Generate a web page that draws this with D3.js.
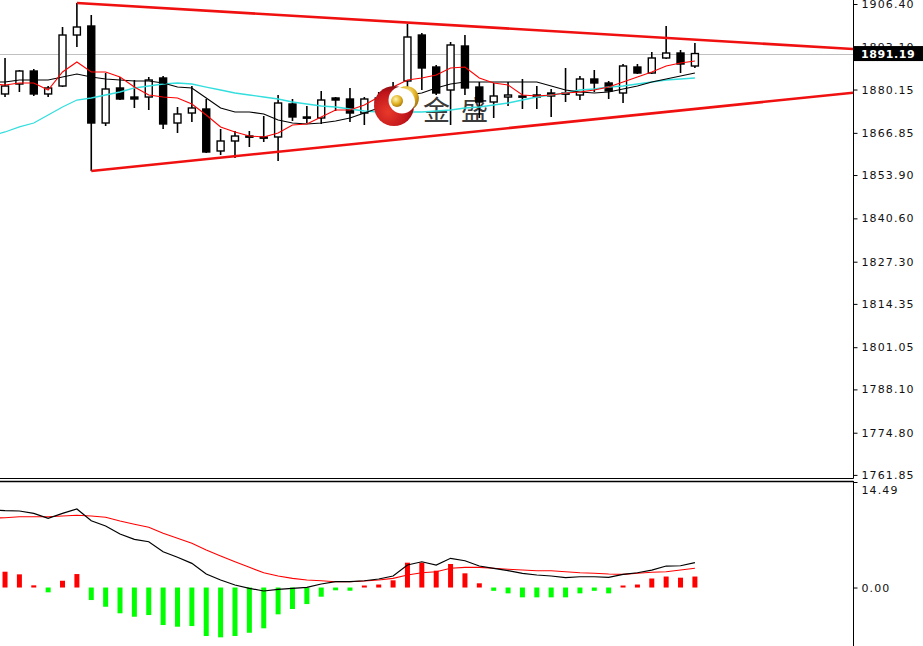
<!DOCTYPE html>
<html><head><meta charset="utf-8">
<script src="https://cdn.jsdelivr.net/npm/d3@7/dist/d3.min.js"></script>
<style>html,body{margin:0;padding:0;background:#fff;overflow:hidden}</style>
</head><body><svg id="c" width="923" height="646"></svg>
<script>
// ---- data (price candles, index 0..48) ----
const opens  = [1878.78,1881.84,1885.83,1878.78,1881.23,1896.88,1899.65,1869.87,1880.62,1877.85,1877.85,1883.69,1869.87,1872.94,1874.17,1861.28,1864.35,1865.88,1865.58,1865.58,1875.71,1871.72,1871.41,1877.55,1877.24,1872.94,1876.01,1876.93,1882.77,1896.88,1887.06,1880.00,1893.51,1880.92,1876.32,1877.85,1877.85,1878.47,1879.08,1878.78,1878.47,1883.38,1882.15,1879.08,1887.06,1885.22,1889.83,1891.36,1887.37];
const highs  = [1889.83,1886.14,1886.45,1881.23,1899.34,1906.71,1903.02,1885.22,1883.99,1883.07,1883.99,1884.30,1874.79,1881.23,1877.24,1868.03,1867.42,1867.42,1872.02,1878.47,1877.24,1875.09,1879.70,1877.85,1880.62,1877.85,1879.39,1882.46,1900.26,1897.50,1887.68,1894.74,1896.88,1882.46,1882.15,1882.46,1883.38,1881.23,1880.31,1886.76,1884.30,1886.14,1882.77,1887.98,1887.98,1891.67,1899.65,1892.28,1894.43];
const lows   = [1877.85,1879.39,1878.16,1877.85,1880.92,1893.20,1855.14,1868.95,1876.93,1874.48,1873.86,1868.03,1866.81,1870.18,1860.67,1860.05,1859.13,1862.51,1864.04,1858.21,1870.49,1869.87,1869.57,1873.56,1870.18,1869.26,1874.48,1875.40,1879.39,1880.00,1878.47,1869.26,1878.47,1871.41,1871.41,1875.09,1874.17,1874.17,1871.72,1876.32,1876.93,1879.39,1877.24,1876.01,1884.91,1884.91,1889.52,1885.22,1886.76];
const closes = [1881.23,1885.83,1878.78,1880.62,1896.88,1899.34,1869.87,1880.31,1877.24,1877.24,1883.07,1869.57,1872.64,1874.48,1860.97,1864.35,1865.88,1865.58,1865.27,1876.01,1871.72,1871.41,1876.93,1876.93,1872.94,1877.24,1877.55,1879.39,1896.27,1886.76,1879.08,1893.82,1880.62,1876.32,1878.16,1878.47,1878.16,1877.85,1878.16,1879.08,1883.38,1882.15,1879.70,1887.37,1885.22,1889.83,1891.36,1887.98,1891.19];

// moving averages, index -1..48
const lineStart = -1;
const maFast = [1881.84,1881.54,1882.15,1882.15,1880.00,1885.53,1888.60,1885.53,1885.53,1883.99,1880.92,1878.47,1877.85,1877.55,1875.71,1872.33,1868.65,1867.11,1865.88,1865.58,1866.81,1869.26,1869.57,1871.72,1873.86,1873.86,1875.40,1877.85,1880.92,1883.07,1883.69,1884.61,1886.76,1887.06,1883.69,1882.15,1881.54,1878.47,1878.16,1878.47,1879.08,1879.39,1880.00,1880.92,1882.46,1883.99,1885.53,1887.37,1888.29,1888.90];
const maMid  = [1882.46,1882.46,1883.07,1883.07,1883.07,1883.99,1884.91,1883.99,1883.38,1883.07,1882.77,1882.77,1882.15,1880.92,1880.62,1877.55,1874.48,1873.25,1873.25,1872.64,1870.80,1869.87,1869.57,1869.87,1870.49,1871.41,1872.94,1874.48,1876.93,1878.47,1879.08,1880.62,1881.84,1882.46,1882.46,1882.46,1882.46,1882.46,1882.46,1881.23,1880.00,1879.39,1879.08,1879.39,1880.31,1881.23,1882.46,1883.38,1884.30,1885.22];
const maSlow = [1865.88,1867.11,1868.65,1869.87,1872.33,1874.79,1876.93,1877.55,1878.47,1879.39,1880.62,1881.23,1881.84,1882.15,1881.84,1880.92,1880.00,1879.08,1878.47,1877.85,1877.24,1876.32,1875.71,1875.09,1874.79,1874.17,1873.56,1873.25,1873.25,1873.25,1873.25,1873.56,1873.86,1874.48,1874.79,1875.40,1876.01,1876.93,1877.85,1878.47,1879.08,1880.00,1880.31,1880.92,1881.23,1881.84,1882.46,1883.07,1883.38,1883.69];

// MACD panel
const macdHist   = [2.17,1.81,0.3,-0.66,0.93,1.85,-1.72,-2.64,-3.54,-4.01,-3.78,-5.15,-5.38,-5.29,-6.66,-6.84,-6.66,-6.21,-5.60,-3.68,-2.95,-2.27,-1.26,-0.38,-0.44,0.16,0.41,0.99,3.41,3.41,2.31,3.23,1.95,0.58,-0.45,-0.80,-1.35,-1.35,-1.35,-1.35,-0.80,-0.45,-0.80,0.16,0.41,1.24,1.51,1.35,1.51];
const macdLine   = [10.64,10.55,10.51,10.19,9.50,10.19,10.78,9.17,8.45,7.35,6.62,6.29,4.92,4.15,3.32,1.85,1.03,0.34,-0.11,-0.48,-0.25,-0.11,0.03,0.48,0.80,0.80,0.93,1.17,1.58,3.09,3.54,3.09,4.01,3.68,2.95,2.64,2.31,1.95,1.72,1.58,1.35,1.48,1.48,1.40,1.81,2.03,2.40,2.95,2.99,3.41];
const signalLine = [9.50,9.59,9.72,9.72,9.72,9.82,9.92,9.82,9.64,9.13,8.68,8.27,7.44,6.76,6.07,5.15,4.33,3.54,2.77,2.03,1.58,1.26,1.03,0.93,0.80,0.80,0.89,1.03,1.26,1.72,2.03,2.17,2.64,2.77,2.77,2.64,2.50,2.40,2.31,2.31,2.17,2.03,1.95,1.85,1.81,1.95,2.09,2.17,2.40,2.64];

// trend lines [index, price]
const upperTrend = [[5, 1906.71], [59, 1892.60]];
const lowerTrend = [[6, 1855.14], [59, 1879.17]];

// tick labels
const priceTicks = ["1906.40","1893.10","1880.15","1866.85","1853.90","1840.60","1827.30","1814.35","1801.05","1788.10","1774.80","1761.85"];
const macdTicks = ["14.49","0.00"];
const lastPrice = 1891.19;
const logoText = ["金","盛"];

// ---- layout ----
const svg = d3.select("#c");
const W = 923, plotR = 853;
const mainTop = 0, mainBot = 478, subTop = 482, subBot = 646;

const x = d3.scaleLinear().domain([-0.35, 59]).range([0, plotR]);
const y = d3.scaleLinear().domain([1760.9, 1907.63]).range([mainBot, mainTop]);
const ym = d3.scaleLinear().domain([-8.03, 14.49]).range([subBot, subTop]);

svg.append("rect").attr("width", W).attr("height", 646).attr("fill", "#fff");

svg.append("defs").append("clipPath").attr("id","mainClip")
  .append("rect").attr("x",0).attr("y",0).attr("width",plotR).attr("height",mainBot);
svg.select("defs").append("clipPath").attr("id","subClip")
  .append("rect").attr("x",0).attr("y",subTop).attr("width",plotR).attr("height",subBot-subTop);

const main = svg.append("g").attr("clip-path","url(#mainClip)");

// last price grey line
main.append("line").attr("x1",0).attr("x2",plotR)
  .attr("y1",Math.round(y(lastPrice))+0.5).attr("y2",Math.round(y(lastPrice))+0.5)
  .attr("stroke","#c0c0c0").attr("stroke-width",1);

// logo text (behind candles)
const lg = main.append("g");
lg.selectAll("text").data(logoText).join("text")
  .attr("x",(d,i)=> i===0 ? 423 : 461)
  .attr("y",120)
  .attr("font-family","'Noto Sans CJK SC', sans-serif")
  .attr("font-size",27)
  .attr("fill","#3a3a3a")
  .text(d=>d);

// candles
const candles = d3.range(opens.length).map(i=>({i,o:opens[i],h:highs[i],l:lows[i],c:closes[i]}));
const cg = main.append("g");
cg.selectAll("line.wick").data(candles).join("line")
  .attr("class","wick")
  .attr("x1",d=>x(d.i)).attr("x2",d=>x(d.i))
  .attr("y1",d=>y(d.h)).attr("y2",d=>y(d.l))
  .attr("stroke","#000").attr("stroke-width",1.6);
const bw = 7;
cg.selectAll("rect.body").data(candles).join("rect")
  .attr("class","body")
  .attr("x",d=>x(d.i)-bw/2)
  .attr("width",bw)
  .attr("y",d=>y(Math.max(d.o,d.c)))
  .attr("height",d=>Math.max(1.2, Math.abs(y(d.o)-y(d.c))))
  .attr("fill",d=>d.c>=d.o ? "#fff" : "#000")
  .attr("stroke","#000").attr("stroke-width",1.4);

// moving averages
function series(arr){ return arr.map((v,k)=>[k+lineStart, v]); }
const lineP = d3.line().x(d=>x(d[0])).y(d=>y(d[1]));
main.append("path").datum(series(maSlow)).attr("d",lineP).attr("fill","none").attr("stroke","#33dede").attr("stroke-width",1.3);
main.append("path").datum(series(maMid)).attr("d",lineP).attr("fill","none").attr("stroke","#000").attr("stroke-width",1.1);
main.append("path").datum(series(maFast)).attr("d",lineP).attr("fill","none").attr("stroke","#ff0000").attr("stroke-width",1.1);

// trend lines
[upperTrend, lowerTrend].forEach(t=>{
  main.append("path").datum(t).attr("d",lineP).attr("fill","none")
    .attr("stroke","#f01010").attr("stroke-width",2.6);
});

// logo emblem (on top)
const cx = 394, cy = 106;
const defs = svg.select("defs");
const rg = defs.append("radialGradient").attr("id","redG").attr("cx","35%").attr("cy","65%").attr("r","70%");
rg.append("stop").attr("offset","0%").attr("stop-color","#e83a2a");
rg.append("stop").attr("offset","70%").attr("stop-color","#c0141a");
rg.append("stop").attr("offset","100%").attr("stop-color","#7a0a0e");
const gg = defs.append("radialGradient").attr("id","goldG").attr("cx","40%").attr("cy","35%").attr("r","70%");
gg.append("stop").attr("offset","0%").attr("stop-color","#fff6b0");
gg.append("stop").attr("offset","60%").attr("stop-color","#e0b020");
gg.append("stop").attr("offset","100%").attr("stop-color","#a07010");
const emb = main.append("g");
emb.append("circle").attr("cx",cx).attr("cy",cy).attr("r",20).attr("fill","url(#redG)");
emb.append("circle").attr("cx",cx+8).attr("cy",cy-6).attr("r",13.5).attr("fill","#fff");
emb.append("path")
  .attr("d",`M${cx+6},${cy-18} A14,14 0 0 1 ${cx+19},${cy+3} A11,11 0 0 0 ${cx+6},${cy-18} Z`)
  .attr("fill","url(#goldG)");
emb.append("circle").attr("cx",cx+3).attr("cy",cy-5).attr("r",6).attr("fill","url(#goldG)");

// MACD sub panel
const sub = svg.append("g").attr("clip-path","url(#subClip)");
const hw = 5;
sub.selectAll("rect.hist").data(macdHist.map((v,i)=>({i,v}))).join("rect")
  .attr("class","hist")
  .attr("x",d=>x(d.i)-hw/2)
  .attr("width",hw)
  .attr("y",d=> d.v>=0 ? Math.min(ym(d.v), ym(0)-2) : ym(0))
  .attr("height",d=> Math.max(2, Math.abs(ym(d.v)-ym(0))))
  .attr("fill",d=> d.v>=0 ? "#ff0000" : "#00ff00");
const lineM = d3.line().x(d=>x(d[0])).y(d=>ym(d[1]));
sub.append("path").datum(series(signalLine)).attr("d",lineM).attr("fill","none").attr("stroke","#ff0000").attr("stroke-width",1.1);
sub.append("path").datum(series(macdLine)).attr("d",lineM).attr("fill","none").attr("stroke","#000").attr("stroke-width",1.2);

// frames
svg.append("line").attr("x1",0).attr("x2",plotR+0.5).attr("y1",mainBot+0.5).attr("y2",mainBot+0.5).attr("stroke","#000");
svg.append("line").attr("x1",0).attr("x2",plotR+0.5).attr("y1",subTop-0.5).attr("y2",subTop-0.5).attr("stroke","#000").attr("stroke-width",1.4);

// axes
const axFont = "'DejaVu Sans', Verdana, sans-serif";
const ay = d3.axisRight(y).tickValues(priceTicks.map(Number))
  .tickFormat((d,i)=>priceTicks[i]).tickSize(4).tickSizeOuter(0).tickPadding(4);
const ayG = svg.append("g").attr("transform",`translate(${plotR+0.5},0)`).call(ay);
ayG.select(".domain").attr("d",`M0,${mainTop}V${mainBot+0.5}`).attr("stroke","#000");
ayG.selectAll("line").attr("stroke","#000");
ayG.selectAll("text").attr("font-family",axFont).attr("font-size",11)
  .attr("letter-spacing","1.1px").attr("fill","#111");

// last price tag
const lpY = y(lastPrice);
svg.append("rect").attr("x",plotR+1).attr("y",lpY-7.5).attr("width",W-plotR-1).attr("height",15).attr("fill","#000");
svg.append("text").attr("x",plotR+8).attr("y",lpY).attr("dy","0.36em")
  .attr("font-family",axFont).attr("font-size",11).attr("font-weight","bold")
  .attr("letter-spacing","0.6px").attr("fill","#fff").text(lastPrice.toFixed(2));

const am = d3.axisRight(ym).tickValues(macdTicks.map(Number))
  .tickFormat((d,i)=>macdTicks[i]).tickSize(4).tickSizeOuter(0).tickPadding(4);
const amG = svg.append("g").attr("transform",`translate(${plotR+0.5},0)`).call(am);
amG.select(".domain").attr("d",`M0,${subTop-1}V${subBot}`).attr("stroke","#000");
amG.selectAll("line").attr("stroke","#000");
amG.selectAll("text").attr("font-family",axFont).attr("font-size",11)
  .attr("letter-spacing","1.1px").attr("fill","#111")
  .attr("dy",(d,i)=> i===0 ? "1.0em" : "0.32em");
</script>
</body></html>
